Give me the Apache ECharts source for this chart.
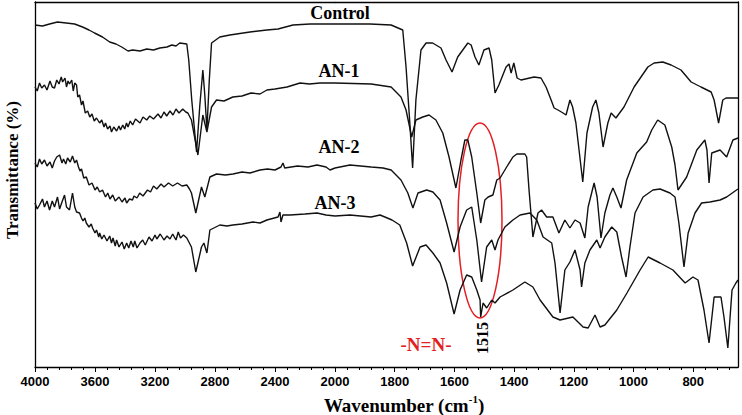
<!DOCTYPE html>
<html><head><meta charset="utf-8">
<script src="https://cdn.jsdelivr.net/npm/echarts@6/dist/echarts.min.js"></script>
<style>html,body{margin:0;padding:0;background:#fff}#c{width:742px;height:415px}</style>
</head><body><div id="c"></div>
<script>
// Wavenumber (cm-1), transmittance (arbitrary offset units)
const controlData = [[4000,342],[3950,341],[3903,343],[3850,345],[3792,344],[3736,343],[3683,340],[3640,337],[3603,334],[3550,330],[3502,325],[3460,323],[3422,320],[3380,316],[3349,317],[3300,316],[3255,318],[3210,317],[3168,319],[3120,320],[3088,322],[3060,321],[3035,324],[2988,323],[2975,307],[2955,267],[2923,215],[2901,262],[2881,297],[2868,272],[2854,237],[2838,287],[2823,324],[2768,330],[2701,332],[2567,335],[2454,337],[2380,338],[2280,342],[2166,343],[2000,343],
[1883,343],[1812,342],[1773,337],[1762,300],[1750,247],[1740,199],[1729,267],[1712,317],[1695,324],[1673,324],[1645,319],[1628,307],[1608,295],[1589,310],[1555,324],[1544,322],[1531,310],[1518,302],[1501,317],[1484,319],[1475,307],[1464,274],[1451,282],[1427,300],[1417,303],[1410,294],[1401,304],[1390,289],[1377,287],[1333,290],[1310,289],[1293,280],[1276,267],[1266,259],[1253,257],[1236,254],[1226,252],[1213,267],[1204,260],[1193,244],[1170,185],[1156,234],[1137,260],[1126,267],[1116,254],[1102,220],[1086,244],[1075,254],[1059,249],[1032,260],[998,280],[975,290],[952,300],[931,304],[902,305],[874,302],[841,297],[807,285],[774,280],[740,275],[730,267],[715,244],[701,267],[690,269],[650,269]];

const an1Data = [[4000,280],[3985,276],[3970,284],[3955,279],[3937,282],[3920,277],[3900,286],[3885,280],[3870,279],[3855,287],[3840,283],[3825,290],[3816,285],[3800,289],[3790,280],[3780,286],[3770,283],[3755,287],[3745,276],[3735,284],[3723,282],[3715,270],[3703,272],[3690,262],[3680,266],[3665,254],[3649,256],[3635,250],[3620,253],[3605,246],[3590,249],[3569,244],[3555,247],[3540,240],[3530,244],[3516,238],[3500,241],[3490,235],[3475,240],[3456,236],[3440,241],[3430,237],[3415,242],[3402,238],[3390,244],[3380,240],[3365,246],[3349,242],[3330,248],[3300,244],[3280,250],[3255,247],[3235,251],[3210,248],[3180,253],[3160,249],[3140,255],[3122,251],[3100,256],[3080,252],[3060,258],[3040,254],[3015,258],[2995,255],[2981,254],[2957,247],[2914,212],[2881,252],[2854,235],[2823,260],[2790,267],[2740,266],[2681,270],[2620,271],[2560,274],[2500,273],[2454,277],[2400,278],[2320,280],[2233,284],[2170,283],[2100,284],[2000,284],
[1879,283],[1812,280],[1779,270],[1762,257],[1743,230],[1729,247],[1706,250],[1685,252],[1662,247],[1639,234],[1618,210],[1595,179],[1578,207],[1565,227],[1555,227],[1542,210],[1525,174],[1512,144],[1498,167],[1487,170],[1471,172],[1458,187],[1447,189],[1425,200],[1404,210],[1391,213],[1364,213],[1358,210],[1350,177],[1337,130],[1320,154],[1308,157],[1291,150],[1270,150],[1250,134],[1230,147],[1213,139],[1196,147],[1179,144],[1163,129],[1152,160],[1132,184],[1122,170],[1109,129],[1096,154],[1079,172],[1069,179],[1056,170],[1042,159],[1023,187],[989,214],[956,225],[939,237],[919,247],[895,242],[872,220],[861,202],[851,177],[822,190],[788,217],[761,227],[754,217],[747,184],[738,214],[710,217],[688,210],[667,227],[650,229]];

const an2Data = [[4000,204],[3985,200],[3970,208],[3955,203],[3937,207],[3920,201],[3900,205],[3885,199],[3870,206],[3855,210],[3836,212],[3820,204],[3810,208],[3795,203],[3783,209],[3765,205],[3750,211],[3735,204],[3723,207],[3710,200],[3700,196],[3690,198],[3675,189],[3658,190],[3640,182],[3620,184],[3600,177],[3585,180],[3569,175],[3550,177],[3530,170],[3515,174],[3500,168],[3482,172],[3465,166],[3440,170],[3420,165],[3400,169],[3389,164],[3370,168],[3350,167],[3340,171],[3320,169],[3302,174],[3280,171],[3250,177],[3230,175],[3210,181],[3188,178],[3160,183],[3140,180],[3110,184],[3082,181],[3050,184],[3020,181],[2988,182],[2970,178],[2957,174],[2928,154],[2890,180],[2868,170],[2834,190],[2790,193],[2730,192],[2680,193],[2620,195],[2567,194],[2500,197],[2450,198],[2400,197],[2360,200],[2347,204],[2335,199],[2250,201],[2180,200],[2120,202],[2060,200],[2033,197],[2000,199],
[1950,202],[1879,200],[1839,199],[1812,197],[1779,187],[1756,174],[1739,159],[1722,174],[1693,177],[1672,175],[1648,167],[1626,144],[1601,115],[1581,140],[1559,157],[1542,160],[1525,127],[1509,85],[1492,120],[1475,127],[1464,117],[1454,127],[1431,140],[1404,147],[1380,152],[1347,154],[1324,147],[1303,130],[1274,124],[1263,104],[1246,54],[1230,97],[1213,105],[1196,117],[1179,97],[1174,80],[1163,104],[1146,117],[1123,127],[1112,119],[1096,130],[1073,140],[1056,135],[1040,110],[1025,90],[1012,120],[995,154],[968,170],[935,177],[911,178],[878,174],[861,170],[848,144],[831,100],[817,134],[794,154],[772,164],[744,165],[710,167],[688,170],[655,177],[650,178]];

const an3Data = [[4000,164],[3985,158],[3970,162],[3950,168],[3937,160],[3920,166],[3903,157],[3885,166],[3870,160],[3850,170],[3836,158],[3820,165],[3803,172],[3790,160],[3770,157],[3750,174],[3735,160],[3723,155],[3703,154],[3690,149],[3680,146],[3668,149],[3658,144],[3640,140],[3625,143],[3616,139],[3600,134],[3590,137],[3575,130],[3569,134],[3555,128],[3540,132],[3520,126],[3502,131],[3490,124],[3480,129],[3465,121],[3456,127],[3440,120],[3420,125],[3405,118],[3389,124],[3375,119],[3360,126],[3345,120],[3335,126],[3320,119],[3300,124],[3282,127],[3265,122],[3240,130],[3220,126],[3200,132],[3188,128],[3165,133],[3140,127],[3120,131],[3100,128],[3082,133],[3060,127],[3045,135],[3030,129],[3010,132],[2988,129],[2957,120],[2928,95],[2890,120],[2874,124],[2854,114],[2834,137],[2768,142],[2720,141],[2681,142],[2620,143],[2547,145],[2500,144],[2454,147],[2380,150],[2367,155],[2360,145],[2347,152],[2300,152],[2200,153],[2120,154],[2060,152],[2000,151],
[1950,152],[1879,150],[1849,152],[1809,147],[1783,142],[1760,124],[1740,101],[1715,120],[1695,122],[1672,114],[1648,104],[1626,84],[1601,53],[1581,77],[1559,92],[1542,90],[1525,77],[1514,67],[1512,50],[1504,64],[1492,59],[1475,67],[1464,64],[1447,70],[1404,77],[1364,85],[1337,80],[1313,67],[1270,50],[1246,47],[1203,50],[1169,40],[1152,39],[1129,52],[1112,40],[1096,42],[1056,57],[1022,74],[978,97],[951,110],[911,104],[868,97],[827,84],[801,90],[784,87],[764,57],[747,24],[730,70],[707,70],[697,50],[684,19],[670,77],[657,84],[650,87]];

const seriesNames = ['Control', 'AN-1', 'AN-2', 'AN-3'];
const seriesData = [controlData, an1Data, an2Data, an3Data];
const leftRange = [2000, 4000];
const rightRange = [650, 2000];
const majorTicksRight = [2000, 1800, 1600, 1400, 1200, 1000, 800];
const axisBreak = 2000;

const minorTicksRight = [];
for (let w = 1960; w >= 680; w -= 40) if (w % 200 !== 0) minorTicksRight.push(w);

const chart = echarts.init(document.getElementById('c'), null, {renderer: 'svg'});
const serif = "'Times New Roman','Liberation Serif',serif";
const sans = "Arial,'Liberation Sans',sans-serif";
const lineCol = '#000';

const baseX = {type: 'value', inverse: true, splitLine: {show: false}};
const lblStyle = {color: '#000', fontFamily: sans, fontWeight: 'bold', fontSize: 13, margin: 8, formatter: v => String(v)};

const series = [];
seriesData.forEach((d, i) => {
  series.push({name: seriesNames[i], type: 'line', xAxisIndex: 0, yAxisIndex: 0, showSymbol: false, silent: true,
    lineStyle: {color: '#111', width: 1.4}, data: d.filter(p => p[0] >= axisBreak)});
  series.push({name: seriesNames[i], type: 'line', xAxisIndex: 2, yAxisIndex: 1, showSymbol: false, silent: true,
    lineStyle: {color: '#111', width: 1.4}, data: d.filter(p => p[0] <= axisBreak)});
});

const textG = (txt, x, y, size, color, rot) => ({
  type: 'text', x: x, y: y, rotation: rot || 0, silent: true,
  style: {text: txt, fill: color || '#000', font: 'bold ' + size + 'px ' + serif, align: 'center', verticalAlign: 'middle'}
});

chart.setOption({
  animation: false,
  backgroundColor: '#fff',
  grid: [
    {left: 35, top: 2, width: 300, height: 365},
    {left: 335, top: 2, width: 403, height: 365},
    {left: 335, top: 2, width: 403, height: 365}
  ],
  xAxis: [
    Object.assign({}, baseX, {gridIndex: 0, min: leftRange[0], max: leftRange[1], interval: 400, position: 'bottom',
      axisLine: {lineStyle: {color: lineCol, width: 1.3}},
      axisTick: {length: 5, lineStyle: {color: lineCol}},
      minorTick: {show: true, splitNumber: 5, length: 3, lineStyle: {color: lineCol}},
      axisLabel: Object.assign({showMinLabel: false}, lblStyle)}),
    Object.assign({}, baseX, {gridIndex: 0, min: leftRange[0], max: leftRange[1], position: 'top',
      axisLine: {lineStyle: {color: lineCol, width: 1.3}}, axisTick: {show: false}, axisLabel: {show: false}}),
    Object.assign({}, baseX, {gridIndex: 1, min: rightRange[0], max: rightRange[1], position: 'bottom',
      axisLine: {lineStyle: {color: lineCol, width: 1.3}},
      axisTick: {length: 5, customValues: majorTicksRight, lineStyle: {color: lineCol}},
      axisLabel: Object.assign({customValues: majorTicksRight}, lblStyle)}),
    Object.assign({}, baseX, {gridIndex: 1, min: rightRange[0], max: rightRange[1], position: 'top',
      axisLine: {lineStyle: {color: lineCol, width: 1.3}}, axisTick: {show: false}, axisLabel: {show: false}}),
    Object.assign({}, baseX, {gridIndex: 2, min: rightRange[0], max: rightRange[1], position: 'bottom',
      axisLine: {show: false},
      axisTick: {length: 3, customValues: minorTicksRight, lineStyle: {color: lineCol}},
      axisLabel: {show: false}})
  ],
  yAxis: [
    {type: 'value', gridIndex: 0, min: 0, max: 365, position: 'left', axisLine: {show: true, lineStyle: {color: lineCol, width: 1.3}},
      axisTick: {show: false}, axisLabel: {show: false}, splitLine: {show: false}},
    {type: 'value', gridIndex: 1, min: 0, max: 365, position: 'right', axisLine: {show: true, lineStyle: {color: lineCol, width: 1.3}},
      axisTick: {show: false}, axisLabel: {show: false}, splitLine: {show: false}},
    {type: 'value', gridIndex: 2, min: 0, max: 365, show: false}
  ],
  series: series,
  graphic: [
    textG('Control', 340, 13, 18),
    textG('AN-1', 339, 71, 18),
    textG('AN-2', 339, 147, 18),
    textG('AN-3', 335, 203, 18),
    textG('-N=N-', 426, 344, 19, '#e31e24'),
    textG('1515', 482, 338, 16, '#000', Math.PI / 2),
    textG('Transmittance (%)', 12, 170, 17, '#000', Math.PI / 2),
    {type: 'ellipse', silent: true, shape: {cx: 480, cy: 220.5, rx: 22, ry: 97.5},
      style: {fill: 'none', stroke: '#e31e24', lineWidth: 1.5}},
    {type: 'text', x: 404, y: 404, silent: true,
      style: {text: '{a|Wavenumber (cm}{s|-1}{a|)}', align: 'center', verticalAlign: 'middle',
        rich: {a: {font: 'bold 19px ' + serif, fill: '#000', lineHeight: 22, verticalAlign: 'bottom'},
               s: {font: 'bold 11px ' + serif, fill: '#000', lineHeight: 22, verticalAlign: 'top', padding: [0, 0, 8, 0]}}}}
  ]
});
</script></body></html>
